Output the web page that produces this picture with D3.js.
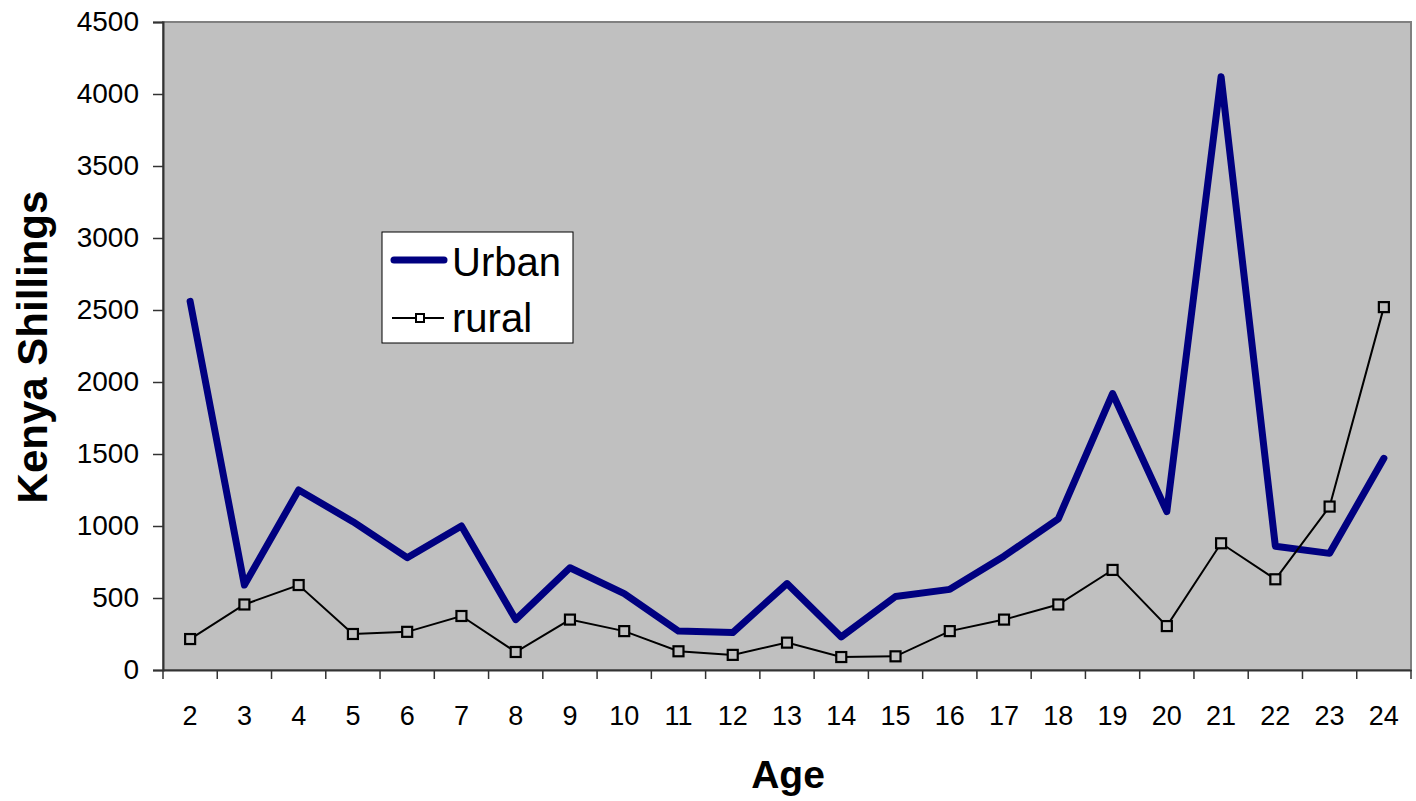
<!DOCTYPE html>
<html>
<head>
<meta charset="utf-8">
<script src="https://cdn.jsdelivr.net/npm/d3@7"></script>
<style>
  body { margin: 0; background: #fff; }
</style>
</head>
<body>
<div id="chart"></div>
<script>
var ages = ["2","3","4","5","6","7","8","9","10","11","12","13","14","15","16","17","18","19","20","21","22","23","24"];
var urban = [2560, 590, 1250, 1030, 780, 1000, 350, 710, 530, 270, 260, 600, 230, 510, 560, 790, 1050, 1920, 1100, 4120, 860, 810, 1470];
var rural = [215, 455, 590, 250, 265, 375, 125, 350, 270, 130, 105, 190, 90, 95, 270, 350, 455, 695, 305, 880, 630, 1135, 2520];
var yTicks = [0, 500, 1000, 1500, 2000, 2500, 3000, 3500, 4000, 4500];

function main(){
    var canvasWidth = 1416;
    var canvasHeight = 801;
    var left = 163, top = 22, right = 1411, bottom = 670;
    var width = right - left;
    var height = bottom - top;
    var font = "'Liberation Sans', Arial, sans-serif";

    var svg = d3.select("#chart").append("svg")
        .attr("width", canvasWidth)
        .attr("height", canvasHeight)
        .style("font-family", font);

    var xScale = d3.scaleBand().domain(ages).range([0, width]);
    var yScale = d3.scaleLinear().domain([0, 4500]).range([height, 0]);

    var g = svg.append("g")
        .attr("transform", "translate(" + left + "," + top + ")");

    // plot area
    g.append("rect")
        .attr("width", width)
        .attr("height", height)
        .attr("fill", "#c0c0c0")
        .attr("stroke", "#808080")
        .attr("stroke-width", 2);

    // y axis
    var yAxis = g.append("g")
        .call(d3.axisLeft(yScale).tickValues(yTicks).tickFormat(d3.format("d")).tickSize(10).tickPadding(14));
    yAxis.select(".domain").attr("stroke", "#333").attr("stroke-width", 2);
    yAxis.selectAll(".tick line").attr("stroke", "#333").attr("stroke-width", 1.5);
    yAxis.selectAll("text").style("font-size", "28px").attr("fill", "#000").style("font-family", font);

    // x axis: ticks at band boundaries
    var xAxis = g.append("g")
        .attr("transform", "translate(0," + height + ")")
        .call(d3.axisBottom(xScale).tickSize(0).tickPadding(36));
    xAxis.select(".domain").attr("stroke", "#333").attr("stroke-width", 2);
    xAxis.selectAll("text").style("font-size", "27px").attr("fill", "#000").style("font-family", font);
    xAxis.selectAll(".bound")
        .data(ages.concat(["end"]))
        .enter().append("line")
        .attr("class", "bound")
        .attr("x1", function(d, i){ return i * xScale.bandwidth(); })
        .attr("x2", function(d, i){ return i * xScale.bandwidth(); })
        .attr("y1", 0)
        .attr("y2", 9)
        .attr("stroke", "#333")
        .attr("stroke-width", 1.5);

    var xPos = function(i){ return xScale(ages[i]) + xScale.bandwidth() / 2; };

    var line = d3.line()
        .x(function(d, i){ return xPos(i); })
        .y(function(d){ return yScale(d); });

    // urban line
    g.append("path")
        .datum(urban)
        .attr("d", line)
        .attr("fill", "none")
        .attr("stroke", "#000080")
        .attr("stroke-width", 7)
        .attr("stroke-linejoin", "round")
        .attr("stroke-linecap", "round");

    // rural line
    g.append("path")
        .datum(rural)
        .attr("d", line)
        .attr("fill", "none")
        .attr("stroke", "#000")
        .attr("stroke-width", 2);

    g.selectAll(".rmark")
        .data(rural)
        .enter().append("rect")
        .attr("class", "rmark")
        .attr("x", function(d, i){ return xPos(i) - 5; })
        .attr("y", function(d){ return yScale(d) - 5; })
        .attr("width", 10)
        .attr("height", 10)
        .attr("fill", "#c0c0c0")
        .attr("stroke", "#000")
        .attr("stroke-width", 2.2);

    // axis titles
    svg.append("text")
        .attr("x", 788)
        .attr("y", 788)
        .attr("text-anchor", "middle")
        .attr("font-size", "39px")
        .attr("font-weight", "bold")
        .text("Age");

    svg.append("text")
        .attr("transform", "translate(47,347) rotate(-90)")
        .attr("text-anchor", "middle")
        .attr("font-size", "42px")
        .attr("font-weight", "bold")
        .text("Kenya Shillings");

    // legend
    var lg = svg.append("g").attr("transform", "translate(382,232)");
    lg.append("rect")
        .attr("width", 191)
        .attr("height", 111)
        .attr("fill", "#fff")
        .attr("stroke", "#000")
        .attr("stroke-width", 1);
    lg.append("line")
        .attr("x1", 12).attr("x2", 62).attr("y1", 28).attr("y2", 28)
        .attr("stroke", "#000080").attr("stroke-width", 7).attr("stroke-linecap", "round");
    lg.append("text")
        .attr("x", 70).attr("y", 44)
        .attr("font-size", "40px")
        .text("Urban");
    lg.append("line")
        .attr("x1", 10).attr("x2", 62).attr("y1", 86).attr("y2", 86)
        .attr("stroke", "#000").attr("stroke-width", 2);
    lg.append("rect")
        .attr("x", 34).attr("y", 82).attr("width", 8).attr("height", 8)
        .attr("fill", "#fff").attr("stroke", "#000").attr("stroke-width", 2);
    lg.append("text")
        .attr("x", 70).attr("y", 100)
        .attr("font-size", "40px")
        .text("rural");
}
main();
</script>
</body>
</html>
